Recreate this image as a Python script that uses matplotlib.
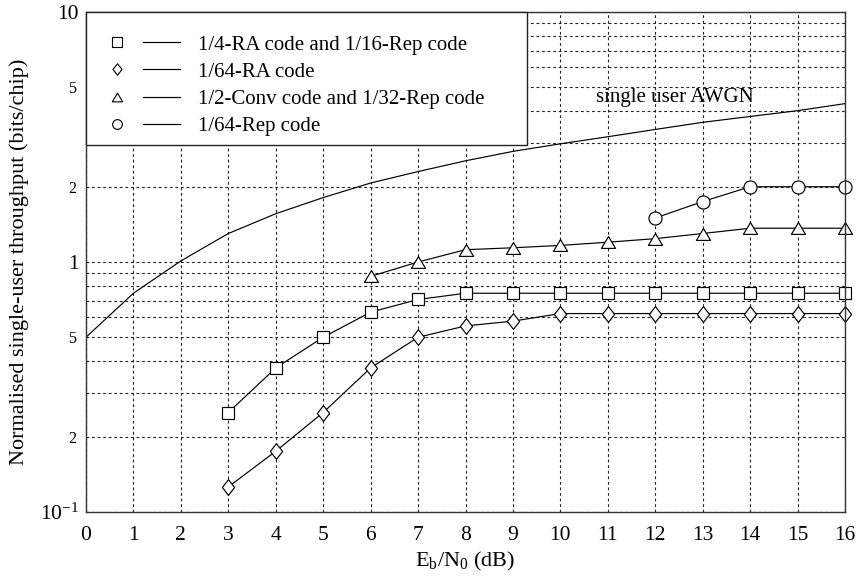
import matplotlib
matplotlib.use("Agg")
import matplotlib.pyplot as plt
from matplotlib.lines import Line2D
from matplotlib.patches import Rectangle
from matplotlib.path import Path
from matplotlib.legend_handler import HandlerTuple
from matplotlib.ticker import FixedLocator, FixedFormatter

plt.rcParams['font.family'] = ['Liberation Serif', 'DejaVu Serif']
plt.rcParams['mathtext.fontset'] = 'custom'
plt.rcParams['mathtext.rm'] = 'Liberation Serif'
plt.rcParams['mathtext.it'] = 'Liberation Serif:italic'

# ---------------- data ----------------
x_awgn = list(range(0, 17))
awgn = [0.50, 0.75, 1.01, 1.30, 1.56, 1.81, 2.07, 2.30, 2.54, 2.77, 2.97,
        3.17, 3.39, 3.62, 3.82, 4.03, 4.30]

x_sq = list(range(3, 17))
y_sq = [0.25, 0.377, 0.50, 0.63, 0.708, 0.75, 0.75, 0.75, 0.75, 0.75, 0.75,
        0.75, 0.75, 0.75]

x_di = list(range(3, 17))
y_di = [0.126, 0.175, 0.25, 0.377, 0.50, 0.555, 0.58, 0.622, 0.622, 0.622,
        0.622, 0.622, 0.622, 0.622]

x_tr = list(range(6, 17))
y_tr = [0.876, 1.0, 1.12, 1.14, 1.165, 1.20, 1.24, 1.30, 1.365, 1.365, 1.365]

x_ci = list(range(12, 17))
y_ci = [1.50, 1.745, 2.0, 2.0, 2.0]

labels = ["1/4-RA code and 1/16-Rep code", "1/64-RA code",
          "1/2-Conv code and 1/32-Rep code", "1/64-Rep code"]

x_ticks = list(range(0, 17))
y_major = [0.1, 1, 10]
y_major_labels = [r'$\mathrm{10^{-1}}$', '1', '10']
y_minor = [0.2, 0.3, 0.4, 0.5, 0.6, 0.7, 0.8, 0.9, 2, 3, 4, 5, 6, 7, 8, 9]
y_minor_labels = ['2', '', '', '5', '', '', '', '', '2', '', '', '5', '', '', '', '']

# ---------------- markers ----------------
diamond = Path([(0, 1), (0.78, 0), (0, -1), (-0.78, 0), (0, 1)],
               [Path.MOVETO, Path.LINETO, Path.LINETO, Path.LINETO, Path.CLOSEPOLY])
triangle = Path([(0, 0.5), (0.6, -0.5), (-0.6, -0.5), (0, 0.5)],
                [Path.MOVETO, Path.LINETO, Path.LINETO, Path.CLOSEPOLY])

fig = plt.figure(figsize=(8.56, 5.78), dpi=100)
ax = fig.add_axes([86/856, 1-512/578, 759/856, 500/578])

ax.set_yscale('log')
ax.set_xlim(0, 16)
ax.set_ylim(0.1, 10)

line_kw = dict(color='black', lw=0.85, mfc='white', mec='black', mew=0.85,
               clip_on=False, zorder=5)
ax.plot(x_awgn, awgn, color='black', lw=0.85, zorder=5)
ax.plot(x_sq, y_sq, marker='s', ms=9.2, **line_kw)
ax.plot(x_di, y_di, marker=diamond, ms=11.3, **line_kw)
ax.plot(x_tr, y_tr, marker=triangle, ms=10.2, **line_kw)
ax.plot(x_ci, y_ci, marker='o', ms=9.4, **line_kw)

# ticks
ax.xaxis.set_major_locator(FixedLocator(x_ticks))
ax.set_xticklabels([str(v) for v in x_ticks])
ax.yaxis.set_major_locator(FixedLocator(y_major))
ax.yaxis.set_major_formatter(FixedFormatter(y_major_labels))
ax.yaxis.set_minor_locator(FixedLocator(y_minor))
ax.yaxis.set_minor_formatter(FixedFormatter(y_minor_labels))
ax.tick_params(axis='both', which='both', length=0)
ax.tick_params(axis='x', which='major', labelsize=15.5, pad=10)
ax.tick_params(axis='y', which='major', labelsize=15.5, pad=5)
ax.tick_params(axis='y', which='minor', labelsize=11.5, pad=7)

grid_kw = dict(color='#222222', lw=0.8, linestyle=(0, (2.5, 2.5)))
ax.grid(True, which='major', axis='x', **grid_kw)
ax.grid(True, which='both', axis='y', **grid_kw)
ax.set_axisbelow(True)

for s in ax.spines.values():
    s.set_color('#333333')
    s.set_linewidth(1.0)
    s.set_zorder(6)

ax.set_xlabel(r'$\mathrm{E_b/N_0}$ (dB)', fontsize=16, labelpad=4)
ax.set_ylabel('Normalised single-user throughput (bits/chip)', fontsize=16, labelpad=8)

ax.text(10.75, 4.57, 'single user AWGN', fontsize=15, ha='left', va='center', zorder=4)

# legend box
box_w = (527 - 86) / 759
box_b = (512 - 145) / 500
ax.add_patch(Rectangle((0, box_b), box_w, 1 - box_b, transform=ax.transAxes,
                       facecolor='white', edgecolor='#222222', lw=1.0,
                       zorder=7, clip_on=False))

mk_kw = dict(ls='none', mfc='white', mec='black', mew=0.8)
handles = [
    (Line2D([], [], marker='s', ms=6.8, **mk_kw), Line2D([], [], color='black', lw=0.85)),
    (Line2D([], [], marker=diamond, ms=8.3, **mk_kw), Line2D([], [], color='black', lw=0.85)),
    (Line2D([], [], marker=triangle, ms=7.5, **mk_kw), Line2D([], [], color='black', lw=0.85)),
    (Line2D([], [], marker='o', ms=7.0, **mk_kw), Line2D([], [], color='black', lw=0.85)),
]
fs = 15
px_per_em = fs * 100 / 72
leg = ax.legend(handles, labels, handler_map={tuple: HandlerTuple(ndivide=None, pad=8.25/px_per_em)},
                loc='center left',
                bbox_to_anchor=((98.35 - 86) / 759, (512 - 85.5) / 500),
                frameon=False, fontsize=fs, borderpad=0, borderaxespad=0,
                handlelength=81.65/px_per_em, handletextpad=18.3/px_per_em,
                labelspacing=0.36)
leg.set_zorder(8)

fig.savefig('out.png', dpi=100)
